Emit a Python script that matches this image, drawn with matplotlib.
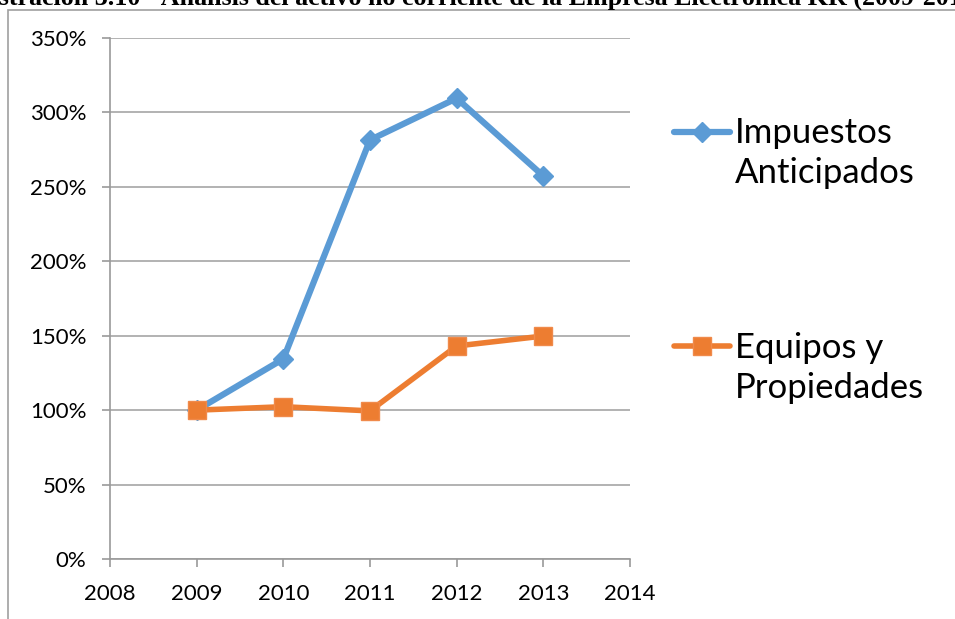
import matplotlib
matplotlib.use('Agg')
from matplotlib import pyplot as plt
from matplotlib.patches import Rectangle
from matplotlib.ticker import FuncFormatter

years = [2009, 2010, 2011, 2012, 2013]
impuestos = [100, 134.4, 281.5, 309.5, 257.3]
equipos = [100, 102.3, 99.5, 143.1, 149.8]
labels = ['Impuestos\nAnticipados', 'Equipos y\nPropiedades']
title = 'Ilustración 3.10 - Análisis del activo no corriente de la Empresa Electrónica KR (2009-2013)'

plt.rcParams['font.family'] = ['Lato', 'DejaVu Sans']

fig = plt.figure(figsize=(9.55, 6.19), dpi=100)
W, H = 955, 619

# outer chart frame (cut by the page)
fig.patches.append(Rectangle((8 / W, -0.1), 1.2, 1 - 9.5 / H + 0.1,
                             transform=fig.transFigure, fill=False,
                             edgecolor='#a0a0a0', linewidth=1.2))

# cropped caption on top
fig.text(-33 / W, 1 - 5 / H, title, family='Liberation Serif', weight='bold',
         fontsize=18.7, ha='left', va='baseline')

ax = fig.add_axes([110 / W, 60 / H, 520 / W, 521 / H])
blue = '#5b9bd5'
orange = '#ed7d31'
ax.plot(years, impuestos, color=blue, linewidth=4.5, marker='D', markersize=10,
        label=labels[0], solid_capstyle='round', zorder=3)
ax.plot(years, equipos, color=orange, linewidth=4, marker='s', markersize=13,
        markeredgecolor='#f08a4b', markeredgewidth=1, label=labels[1],
        solid_capstyle='round', zorder=4)

ax.set_xlim(2008, 2014)
ax.set_ylim(0, 350)
ax.set_xticks(range(2008, 2015))
ax.set_yticks(range(0, 351, 50))
ax.yaxis.set_major_formatter(FuncFormatter(lambda v, p: f'{int(v)}%'))
ax.grid(axis='y', color='#a6a6a6', linewidth=1.2)
ax.set_axisbelow(True)
for s in ['top', 'right']:
    ax.spines[s].set_visible(False)
for s in ['left', 'bottom']:
    ax.spines[s].set_color('#9a9a9a')
    ax.spines[s].set_linewidth(1.2)
ax.tick_params(axis='both', direction='out', length=6, width=1.2, color='#9a9a9a',
               labelsize=16, labelcolor='black')
ax.tick_params(axis='y', pad=11)
ax.tick_params(axis='x', pad=12)

leg = ax.legend(loc='upper left', bbox_to_anchor=(674 / W, 1 - 117 / H),
                bbox_transform=fig.transFigure, frameon=False, fontsize=25,
                handlelength=1.6, handletextpad=0.15, labelspacing=4.1,
                borderpad=0, borderaxespad=0, handleheight=1.2)
for t in leg.get_texts():
    t.set_linespacing(1.32)
# put the handle next to the first text line, like the original
for col in leg._legend_handle_box.get_children():
    for item in col.get_children():
        item.align = 'top'

fig.savefig('out.png', dpi=100)
